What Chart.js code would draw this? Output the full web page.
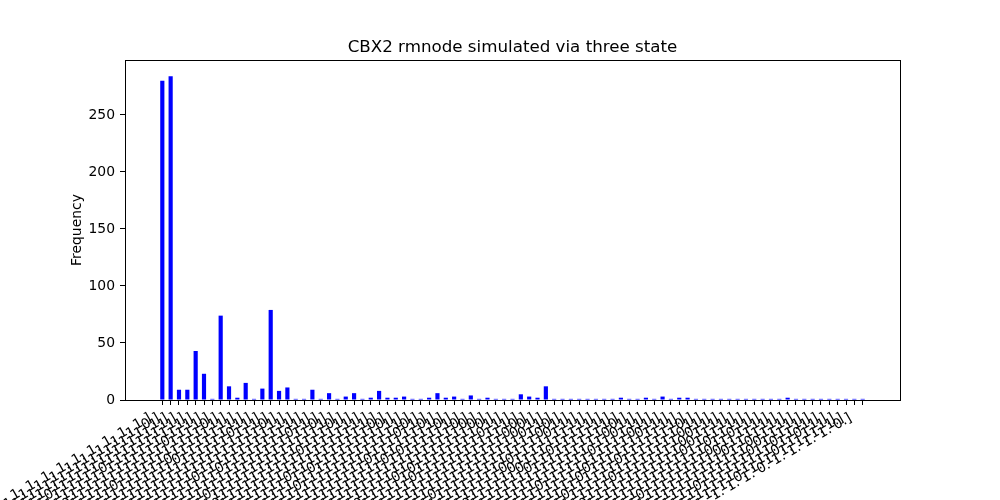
<!DOCTYPE html>
<html>
<head>
<meta charset="utf-8">
<script src="https://cdn.jsdelivr.net/npm/chart.js@4"></script>
<style>
  html, body { margin: 0; padding: 0; background: #fff; }
  #chart { display: block; }
</style>
</head>
<body>
<canvas id="chart" width="1000" height="500"></canvas>
<script>
const chartTitle = 'CBX2 rmnode simulated via three state';
const yLabel = 'Frequency';

// node states of each simulated attractor, one digit per node
const stateCodes = [
  '1111111111111111111111', '1111111111111111111110', '1111111111011111111111',
  '1111111110111111111111', '1111111111111011111111', '1111111111111111011111',
  '1111110111111111111111', '1111111111111111111011', '1111111111110111111110',
  '1101111111111111111111', '1111111111111101111111', '1111111101111111101111',
  '1111111111111111101111', '1111111111111111111101', '1111011111111111111111',
  '1111111111101111111110', '1011111111111111111111', '1111111011111111111111',
  '1111111111111110111111', '1110111111111111011111', '1111111111011111111101',
  '1111111110111111111110', '0111111111111111111111', '1111111111111011111110',
  '1111101111111111111111', '1111111111111111110111', '1111111111110111111111',
  '1111111101111111111111', '1111101111111111111110', '1111111111111110111110',
  '1111111011111111011111', '1110111111111111111111', '1111111111111101111110',
  '1111111111101111111101', '1101111111111111111110', '1111111110111111101111',
  '1111011111111111111110', '1111111111111111100111', '1011111111111111111110',
  '1111111011111111111110', '1111110111111111111110', '1111111111011111111110',
  '1111111111111110011111', '1111111111110111111101', '1111101111111110111111',
  '1111111101111111111110', '1111111111111111111100', '1111011111111111111101',
  '1111111110111111111101', '1110111111111111111110', '1111111111111011111101',
  '1111111011111111111101', '1111110111111111101111', '1111111111101111011111',
  '1101111111111111011111', '1111111111111111010111', '1111111111110111011111',
  '0111111111111111111110', '1111111101111111111101', '1111101111111111111101',
  '1111111111011111110111', '1111111111111101111101', '1011111111111111111101',
  '1111011111111111011111', '1111111110111110111111', '1111111111111111101110',
  '1110111111111011111111', '1111110111111111111101', '1111111111111110111101',
  '1111111011111111111011', '1111111111110111111011', '1111101111111111110111',
  '1111111111011111111011', '1101111111111111111101', '1111111101111111110111',
  '1111111111111011110111', '1111011111111111110111', '1111111110111111111011',
  '1111111111101111111011', '1011111111111111110111', '1111111111111101111011',
  '1110111111111111111101', '1111110111111111110111', '1111111011111110111111',
  '1111111111111111011110'
];

const counts = [
  280, 284, 9, 9, 43, 23, 1, 74, 12, 2, 15, 1, 10, 79, 8, 11, 1, 1, 9, 1,
  6, 1, 3, 6, 1, 2, 8, 2, 2, 3, 1, 1, 2, 6, 2, 3, 1, 4, 1, 2,
  1, 1, 1, 5, 3, 2, 12, 1, 1, 1, 1, 1, 1, 1, 1, 2, 1, 1, 2, 1,
  3, 1, 2, 2, 1, 1, 1, 1, 1, 1, 1, 1, 1, 1, 1, 2, 1, 1, 1, 1,
  1, 1, 1, 1, 1
];

const yTicks = [0, 50, 100, 150, 200, 250];
const xRange = [-4.475, 88.475];
const yMax = 298.2;

// numpy-like printing of a state vector
function fmtState(code) {
  return '[' + code.split('').map(c => c + '.').join(' ') + ']';
}
const tickLabels = stateCodes.map(fmtState);

// full box around the axes like matplotlib spines
const frame = {
  id: 'frame',
  afterDatasetsDraw(chart) {
    const { ctx, chartArea: a } = chart;
    ctx.save();
    ctx.strokeStyle = '#000';
    ctx.lineWidth = 1;
    ctx.strokeRect(Math.round(a.left) + 0.5, Math.round(a.top) + 0.5,
      Math.round(a.right - a.left), Math.round(a.bottom - a.top));
    ctx.restore();
  }
};

Chart.defaults.font.family = '"DejaVu Sans", sans-serif';
Chart.defaults.color = '#000';

new Chart(document.getElementById('chart').getContext('2d'), {
  type: 'bar',
  data: {
    datasets: [{
      data: counts.map((v, i) => ({ x: i, y: v })),
      backgroundColor: '#0000ff',
      borderWidth: 0,
      categoryPercentage: 1,
      barPercentage: 0.5
    }]
  },
  options: {
    responsive: false,
    animation: false,
    devicePixelRatio: 1,
    // title is centred over the axes, so left/right padding differ by 25
    layout: { padding: { left: 25, right: 0, top: 0, bottom: 0 } },
    plugins: {
      legend: { display: false },
      tooltip: { enabled: false },
      title: {
        display: true,
        text: chartTitle,
        color: '#000',
        font: { size: 16.7, weight: 'normal' },
        padding: { top: 38, bottom: 2 }
      }
    },
    scales: {
      x: {
        type: 'linear',
        min: xRange[0],
        max: xRange[1],
        offset: false,
        grid: { offset: false, drawOnChartArea: false, drawTicks: true, tickLength: 5, color: '#000' },
        border: { display: true, color: '#000' },
        afterBuildTicks: s => { s.ticks = counts.map((_, i) => ({ value: i })); },
        afterFit: s => { s.height = 100; s.paddingLeft = 0; s.paddingRight = 100; },
        ticks: {
          autoSkip: false,
          minRotation: 30,
          maxRotation: 30,
          padding: 5,
          labelOffset: -12,
          font: { size: 13.9 },
          color: '#000',
          callback: v => tickLabels[v]
        }
      },
      y: {
        min: 0,
        max: yMax,
        grid: { drawOnChartArea: false, drawTicks: true, tickLength: 5, color: '#000' },
        border: { display: true, color: '#000' },
        afterBuildTicks: s => { s.ticks = yTicks.map(v => ({ value: v })); },
        afterFit: s => { s.width = 100; s.paddingTop = 0; s.paddingBottom = 0; },
        ticks: { padding: 5, font: { size: 13.9 }, color: '#000' },
        title: {
          display: true,
          text: yLabel,
          color: '#000',
          font: { size: 13.9 },
          padding: { top: 44, bottom: 0 }
        }
      }
    }
  },
  plugins: [frame]
});
</script>
</body>
</html>
